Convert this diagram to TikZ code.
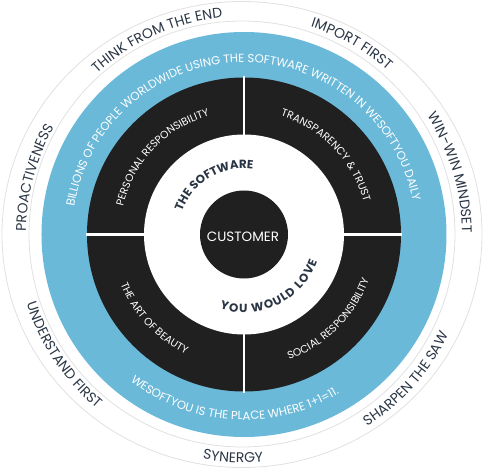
\documentclass[tikz,border=0pt]{standalone}
\usepackage{fontspec}
\setmainfont{Poppins}
\usetikzlibrary{decorations.text}
\definecolor{ringblue}{HTML}{6BB9D9}
\definecolor{ringdark}{HTML}{202020}
\definecolor{navy}{HTML}{2A3645}
\definecolor{thingrey}{HTML}{E0E0E0}
% #1 centre angle, #2 radius, #3 half span, #4 format, #5 text
\newcommand{\cwarc}[5]{%
  \path[decorate, decoration={text along path, text align=center, text={|#4|#5}}]
    ({#1+#3}:#2) arc[start angle={#1+#3}, end angle={#1-#3}, radius=#2];}
\newcommand{\ccwarc}[5]{%
  \path[decorate, decoration={text along path, text align=center, text={|#4|#5}}]
    ({#1-#3}:#2) arc[start angle={#1-#3}, end angle={#1+#3}, radius=#2];}
\newcommand{\ccwfit}[5]{%
  \path[decorate, decoration={text along path, text align=fit to path, text={|#4|#5}}]
    ({#1-#3}:#2) arc[start angle={#1-#3}, end angle={#1+#3}, radius=#2];}
\begin{document}
\begin{tikzpicture}[x=1pt,y=1pt,
  thinline/.style={draw=thingrey, line width=0.8pt},
  sepline/.style={draw=white, line width=2.8pt}]
\useasboundingbox (-244,-234.5) rectangle (239,234.5);
\coordinate (C) at (0,0);
% outer thin rings
\draw[thinline] (-2,0) ellipse [x radius=240, y radius=233];
\draw[thinline] (-2,0.5) circle [radius=213];
% blue ring
\fill[ringblue] (C) circle [radius=202.5];
% dark ring
\fill[ringdark] (C) circle [radius=157];
\draw[sepline] (C) ++(0,-158) -- ++(0,316);
\draw[sepline] (C) ++(-158,0) -- ++(316,0);
% white ring
\fill[white] (C) circle [radius=100];
% customer
\node[circle, fill=ringdark, minimum size=88pt, inner sep=0pt] (cust) at (C) {};
\node[text=white, font=\fontsize{13.5}{15}\selectfont] (custlabel) at (-1,-2.5) {CUSTOMER};

% outer ring texts
\def\outerfmt{\fontsize{14}{16}\selectfont\color{navy}}
\cwarc{114}{218}{80}{\outerfmt}{THINK FROM THE END}
\cwarc{60.5}{218}{80}{\outerfmt}{IMPORT FIRST}
\cwarc{16.7}{218}{80}{\outerfmt}{WIN-WIN MINDSET}
\cwarc{164.8}{218}{80}{\outerfmt}{PROACTIVENESS}
\ccwarc{213.7}{228}{80}{\outerfmt}{UNDERSTAND FIRST}
\ccwarc{267.2}{228}{80}{\outerfmt}{SYNERGY}
\ccwarc{318.3}{228}{80}{\outerfmt}{SHARPEN THE SAW}

% blue ring texts
\def\bluefmt{\fontsize{11.7}{13}\selectfont\color{white}}
\cwarc{91}{172}{110}{\bluefmt}{BILLIONS OF PEOPLE WORLDWIDE USING THE SOFTWARE WRITTEN IN WESOFTYOU DAILY}
\ccwarc{266.6}{185.5}{80}{\bluefmt}{WESOFTYOU IS THE PLACE WHERE 1+1=11.}

% dark ring texts
\def\darkfmt{\fontsize{10.6}{12}\selectfont\color{white}}
\cwarc{136.5}{124}{80}{\darkfmt}{PERSONAL RESPONSIBILITY}
\cwarc{44}{124}{80}{\darkfmt}{TRANSPARENCY {\&} TRUST}
\ccwarc{223}{133}{80}{\darkfmt}{THE ART OF BEAUTY}
\ccwarc{315}{133}{80}{\darkfmt}{SOCIAL RESPONSIBILITY}

% white ring texts
\def\innerfmt{\fontsize{11.8}{13}\selectfont\bfseries\color{navy}}
\cwarc{121}{66}{80}{\innerfmt}{THE SOFTWARE}
\ccwfit{296}{78}{44}{\innerfmt}{YOU WOULD LOVE}
\end{tikzpicture}
\end{document}
